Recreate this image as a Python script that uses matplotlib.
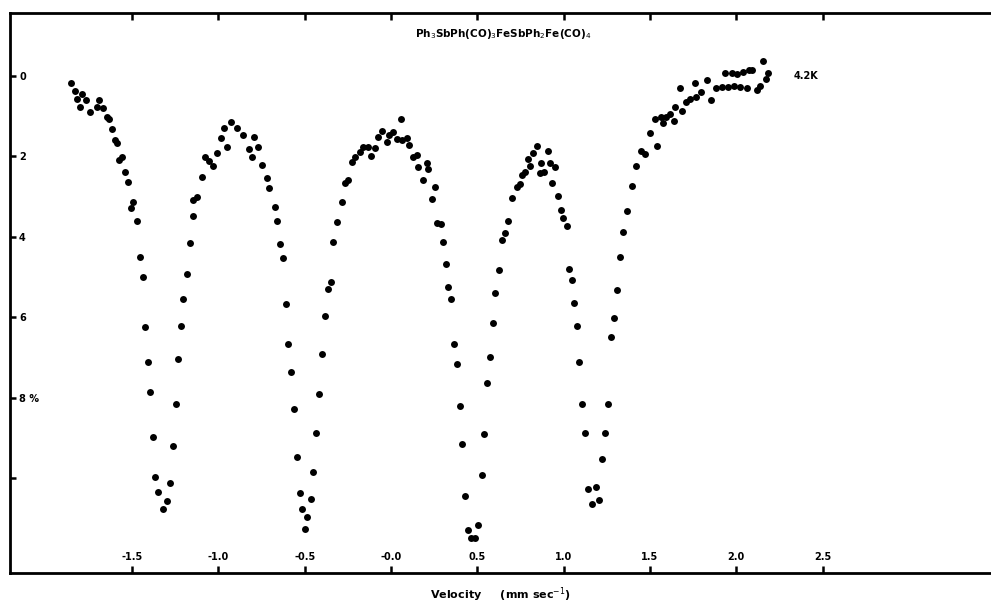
import numpy as np
import matplotlib
matplotlib.use("Agg")
import matplotlib.pyplot as plt

velocidad = np.array([
    -1.854, -1.831, -1.818, -1.802, -1.792, -1.767, -1.744, -1.702, -1.690, -1.667,
    -1.647, -1.632, -1.618, -1.599, -1.586, -1.574, -1.560, -1.541, -1.522, -1.506,
    -1.493, -1.473, -1.454, -1.439, -1.427, -1.410, -1.395, -1.381, -1.366, -1.348,
    -1.323, -1.296, -1.280, -1.265, -1.247, -1.232, -1.217, -1.203, -1.182, -1.165,
    -1.149, -1.145, -1.126, -1.097, -1.078, -1.054, -1.033, -1.006, -0.985, -0.968,
    -0.952, -0.927, -0.894, -0.856, -0.821, -0.807, -0.794, -0.773, -0.745, -0.716,
    -0.704, -0.672, -0.659, -0.641, -0.624, -0.610, -0.595, -0.578, -0.562, -0.546,
    -0.529, -0.514, -0.498, -0.485, -0.463, -0.452, -0.435, -0.415, -0.400, -0.382,
    -0.367, -0.348, -0.334, -0.315, -0.286, -0.266, -0.247, -0.228, -0.209, -0.180,
    -0.160, -0.132, -0.116, -0.093, -0.074, -0.054, -0.025, -0.012, 0.013, 0.033,
    0.058, 0.062, 0.091, 0.106, 0.129, 0.149, 0.155, 0.187, 0.207, 0.216,
    0.236, 0.255, 0.267, 0.287, 0.303, 0.319, 0.332, 0.348, 0.367, 0.381,
    0.400, 0.413, 0.429, 0.444, 0.466, 0.487, 0.506, 0.525, 0.541, 0.556,
    0.575, 0.593, 0.605, 0.626, 0.641, 0.661, 0.676, 0.699, 0.728, 0.747,
    0.761, 0.776, 0.792, 0.805, 0.824, 0.844, 0.863, 0.869, 0.888, 0.908,
    0.921, 0.931, 0.950, 0.969, 0.983, 0.998, 1.018, 1.031, 1.047, 1.062,
    1.079, 1.091, 1.108, 1.126, 1.143, 1.163, 1.189, 1.207, 1.224, 1.238,
    1.256, 1.273, 1.290, 1.308, 1.327, 1.344, 1.366, 1.399, 1.417, 1.447,
    1.472, 1.498, 1.532, 1.539, 1.564, 1.576, 1.593, 1.616, 1.640, 1.645,
    1.674, 1.686, 1.709, 1.732, 1.762, 1.767, 1.796, 1.829, 1.851, 1.883,
    1.918, 1.935, 1.953, 1.974, 1.987, 2.005, 2.022, 2.041, 2.063, 2.074,
    2.094, 2.118, 2.138, 2.154, 2.173, 2.186,
])
absorcion = np.array([
    0.18, 0.37, 0.57, 0.78, 0.45, 0.60, 0.89, 0.78, 0.60, 0.80,
    1.01, 1.07, 1.32, 1.59, 1.67, 2.09, 2.01, 2.38, 2.63, 3.27,
    3.13, 3.60, 4.51, 5.01, 6.24, 7.11, 7.87, 8.98, 9.98, 10.34,
    10.78, 10.57, 10.12, 9.20, 8.16, 7.04, 6.21, 5.55, 4.93, 4.16,
    3.48, 3.08, 3.00, 2.50, 2.01, 2.11, 2.23, 1.92, 1.53, 1.30,
    1.76, 1.14, 1.30, 1.47, 1.82, 2.02, 1.51, 1.76, 2.21, 2.54,
    2.79, 3.25, 3.61, 4.19, 4.52, 5.66, 6.67, 7.36, 8.27, 9.47,
    10.37, 10.77, 11.27, 10.97, 10.51, 9.84, 8.89, 7.90, 6.92, 5.96,
    5.30, 5.12, 4.14, 3.64, 3.13, 2.67, 2.59, 2.13, 2.02, 1.88,
    1.77, 1.77, 1.99, 1.80, 1.51, 1.36, 1.63, 1.47, 1.39, 1.57,
    1.08, 1.59, 1.55, 1.72, 2.01, 1.97, 2.26, 2.59, 2.16, 2.30,
    3.07, 2.75, 3.66, 3.69, 4.13, 4.68, 5.24, 5.55, 6.67, 7.16,
    8.21, 9.15, 10.45, 11.29, 11.50, 11.50, 11.17, 9.93, 8.91, 7.63,
    7.00, 6.14, 5.39, 4.83, 4.08, 3.91, 3.61, 3.04, 2.75, 2.69,
    2.46, 2.38, 2.06, 2.24, 1.91, 1.74, 2.42, 2.17, 2.38, 1.86,
    2.16, 2.67, 2.27, 2.98, 3.32, 3.54, 3.73, 4.79, 5.07, 5.64,
    6.21, 7.12, 8.16, 8.87, 10.26, 10.65, 10.22, 10.55, 9.52, 8.87,
    8.15, 6.49, 6.02, 5.32, 4.51, 3.87, 3.35, 2.74, 2.24, 1.86,
    1.94, 1.42, 1.06, 1.74, 1.01, 1.18, 1.02, 0.95, 1.12, 0.76,
    0.31, 0.87, 0.65, 0.57, 0.17, 0.51, 0.39, 0.09, 0.60, 0.30,
    0.27, -0.08, 0.27, -0.07, 0.26, -0.04, 0.27, -0.09, 0.31, -0.14,
    -0.15, 0.35, 0.25, -0.37, 0.08, -0.08,
])

x_ticks = [-1.5, -1.0, -0.5, 0.0, 0.5, 1.0, 1.5, 2.0, 2.5]
x_labels = ['-1.5', '-1.0', '-0.5', '-0.0', '0.5', '1.0', '1.5', '2.0', '2.5']
y_ticks = [0, 2, 4, 6, 8, 10]
y_labels = ['0', '2', '4', '6', '8 %', '']

titulo = r'Ph$_3$SbPh(CO)$_3$FeSbPh$_2$Fe(CO)$_4$'
temperatura = '4.2K'


def grafica():
    fig = plt.figure(figsize=(9.91, 6.06), dpi=100)
    ax = fig.add_axes([0.0101, 0.0545, 0.9889, 0.924])

    ax.plot(velocidad, absorcion, 'o', color='black', ms=5.0, mew=0)

    ax.set_xlim(-2.207, 3.47)
    ax.set_ylim(12.36, -1.567)  # absorcion crece hacia abajo

    for lado in ['left', 'bottom', 'top']:
        ax.spines[lado].set_linewidth(2.0)
    ax.spines['right'].set_visible(False)

    ax.set_xticks(x_ticks)
    ax.set_xticklabels(x_labels, fontsize=7, fontweight='bold')
    ax.set_yticks(y_ticks)
    ax.set_yticklabels(y_labels, fontsize=7, fontweight='bold')
    ax.tick_params(axis='x', direction='in', length=5, width=1.8, top=True, pad=-8)
    ax.tick_params(axis='y', direction='in', length=4, width=1.8, pad=-6.5)
    for lab in ax.get_xticklabels():
        lab.set_verticalalignment('bottom')
    for lab in ax.get_yticklabels():
        lab.set_horizontalalignment('left')

    ax.text(0.65, -1.05, titulo, fontsize=7.5, fontweight='bold', ha='center', va='center')
    ax.text(2.33, 0.0, temperatura, fontsize=7, fontweight='bold', ha='left', va='center')

    fig.text(0.505, 0.018, r'Velocity     (mm sec$^{-1}$)', fontsize=8, fontweight='bold',
             ha='center', va='center')

    fig.savefig('out.png', dpi=100)


if __name__ == "__main__":
    grafica()
